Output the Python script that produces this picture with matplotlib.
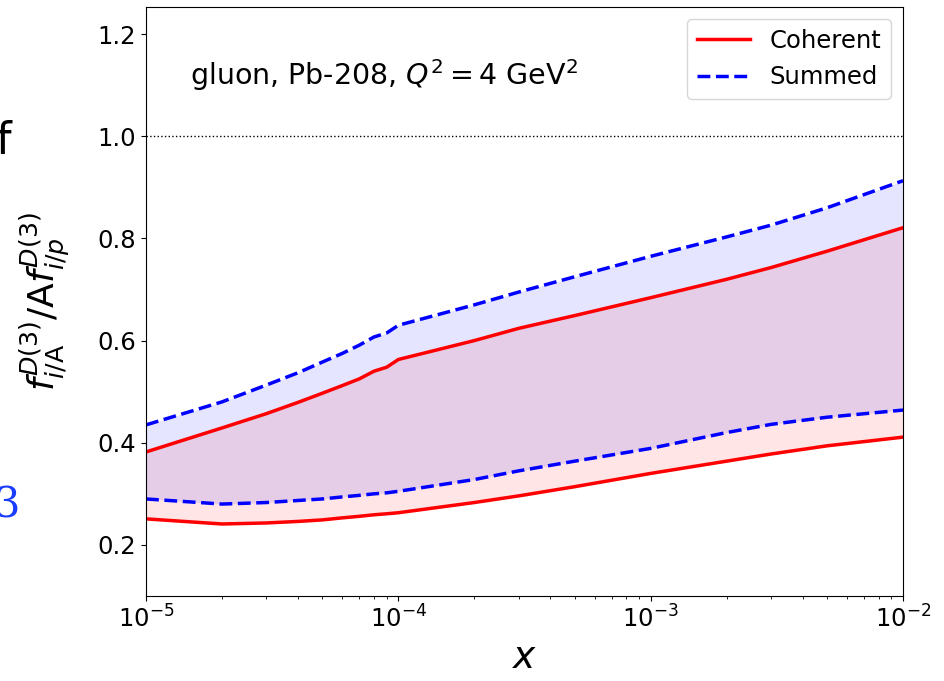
"""Diffractive gluon nuclear ratio, Pb-208, coherent vs summed bands."""

import matplotlib

matplotlib.use("Agg")
import matplotlib.pyplot as plt
import numpy as np

# x grid shared by all curves
x_vals = [1e-5, 2e-5, 3e-5, 4e-5, 5e-5, 6e-5, 7e-5, 8e-5, 9e-5,
          1e-4, 2e-4, 3e-4, 5e-4, 1e-3, 2e-3, 3e-3, 5e-3, 1e-2]

coherent_upper = [0.382, 0.429, 0.457, 0.479, 0.497, 0.512, 0.525, 0.540, 0.548,
                  0.563, 0.600, 0.624, 0.649, 0.684, 0.720, 0.743, 0.775, 0.821]
coherent_lower = [0.251, 0.241, 0.243, 0.246, 0.249, 0.253, 0.256, 0.259, 0.261,
                  0.263, 0.283, 0.296, 0.314, 0.340, 0.364, 0.378, 0.394, 0.411]
summed_upper = [0.435, 0.480, 0.513, 0.537, 0.558, 0.575, 0.591, 0.607, 0.615,
                0.630, 0.670, 0.695, 0.725, 0.765, 0.803, 0.826, 0.860, 0.913]
summed_lower = [0.290, 0.280, 0.283, 0.287, 0.290, 0.294, 0.297, 0.300, 0.302,
                0.305, 0.328, 0.345, 0.364, 0.389, 0.420, 0.436, 0.450, 0.464]

yticks = [0.2, 0.4, 0.6, 0.8, 1.0, 1.2]


def main() -> None:
    x = np.array(x_vals)
    fig = plt.figure(figsize=(9.45, 6.81), dpi=100)
    ax = fig.add_axes([0.1545, 0.1248, 0.8011, 0.8649])

    ax.fill_between(x, coherent_lower, coherent_upper, color="red", alpha=0.1, linewidth=0)
    ax.fill_between(x, summed_lower, summed_upper, color="blue", alpha=0.1, linewidth=0)
    ax.plot(x, coherent_upper, color="red", lw=2.5, label="Coherent")
    ax.plot(x, coherent_lower, color="red", lw=2.5)
    ax.plot(x, summed_upper, color="blue", lw=2.5, ls="--", label="Summed")
    ax.plot(x, summed_lower, color="blue", lw=2.5, ls="--")
    ax.axhline(1.0, color="black", lw=1.0, ls=":")

    ax.set_xscale("log")
    ax.set_xlim(1e-5, 1e-2)
    ax.set_ylim(0.1, 1.253)
    ax.set_yticks(yticks)
    ax.tick_params(labelsize=17.5)
    ax.set_xlabel(r"$x$", fontsize=27, labelpad=5)
    ax.set_ylabel(r"$f^{D(3)}_{i/\mathrm{A}}/\mathrm{A}f^{D(3)}_{i/p}$", fontsize=26, labelpad=18)

    ax.text(0.058, 0.885, r"gluon, Pb-208, $Q^2 = 4$ GeV$^2$", transform=ax.transAxes,
            fontsize=20.5, va="center")
    ax.legend(loc="upper right", fontsize=17.5, handlelength=2.2)

    # fragments of neighbouring panels cropped into the picture
    fig.text(-0.004, 1 - 141 / 681, "f", fontsize=32, va="center", ha="left")
    fig.text(-0.006, 1 - 506 / 681, "3", fontsize=30, va="center", ha="left",
             color="#1a3cff", family="DejaVu Serif")

    fig.savefig("out.png", dpi=100)
    plt.close(fig)


if __name__ == "__main__":
    main()
